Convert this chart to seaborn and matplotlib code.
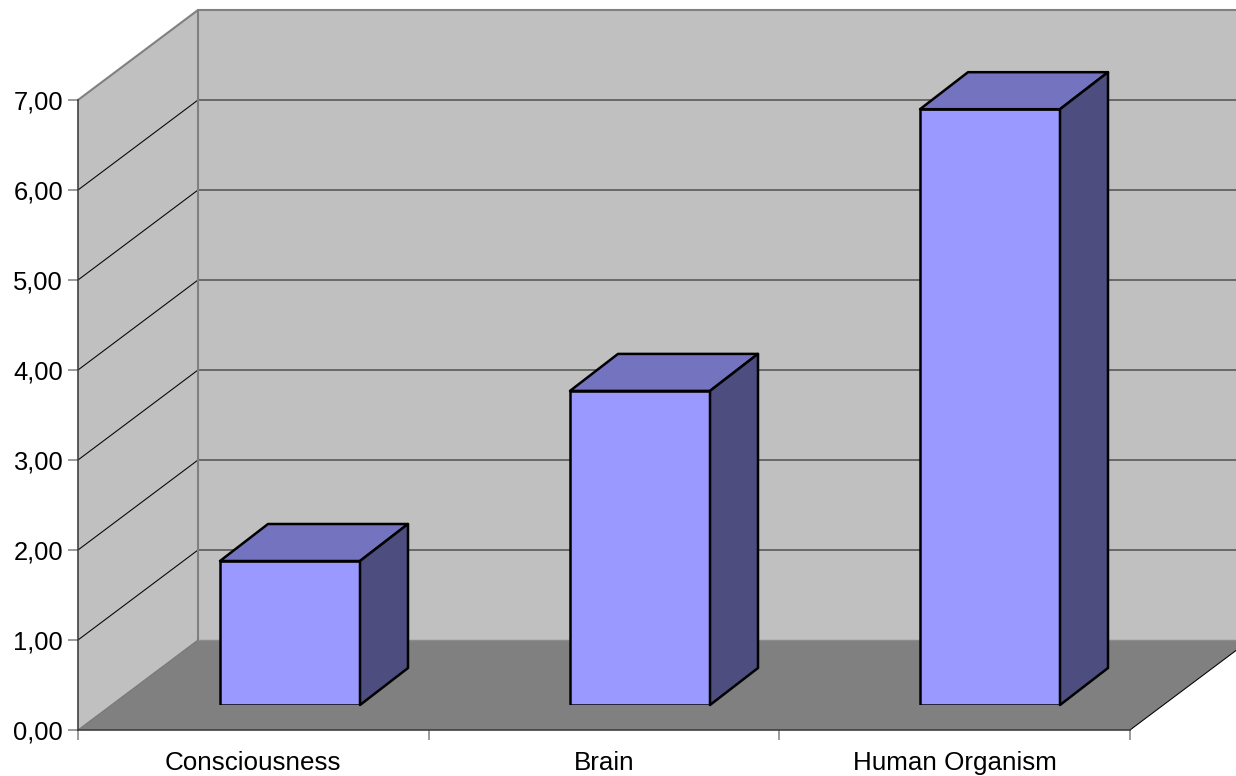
import matplotlib
matplotlib.use("Agg")
import matplotlib.pyplot as plt
from matplotlib.patches import Polygon
import seaborn as sns

categories = ["Consciousness", "Brain", "Human Organism"]
values = [1.60, 3.49, 6.62]
y_ticks = [0, 1, 2, 3, 4, 5, 6, 7]
y_labels = ["0,00", "1,00", "2,00", "3,00", "4,00", "5,00", "6,00", "7,00"]

W, H = 1236, 776
PX_X = 1052 / 3      # pixels per category on the axis
PX_BAR = 350         # pixels per category for the bars
PX_Y = 90            # pixels per value unit

sns.set_style("white")
plt.rcParams["font.family"] = ["Liberation Sans", "DejaVu Sans"]

fig = plt.figure(figsize=(W / 100, H / 100), dpi=100, facecolor="white")


def axes_at(left, base, width, zorder):
    """Axes whose x=-0.5 and y=0 corner sits at the given pixel position."""
    a = fig.add_axes([left / W, (H - base) / H, width / W, 630 / H], zorder=zorder)
    a.set_xlim(-0.5, 2.5)
    a.set_ylim(0, 7)
    a.patch.set_alpha(0)
    return a


ax = axes_at(78, 730, 1052, 1)
bar_ax = axes_at(115, 705, 1050, 2)

# Chart box: side wall, back wall and floor, pushed back by one depth step
dx = 120 / PX_X
dy = 1.0
x0, x1 = -0.5, 2.5
wall = "#C0C0C0"
edge = "#808080"


def add_poly(target, pts, face, ec="none", lw=0.0, z=1):
    target.add_patch(Polygon(pts, closed=True, facecolor=face, edgecolor=ec,
                             linewidth=lw, clip_on=False, zorder=z,
                             joinstyle="round"))


add_poly(ax, [(x0 + dx, dy), (x1 + dx, dy), (x1 + dx, 7 + dy), (x0 + dx, 7 + dy)], wall)
add_poly(ax, [(x0, 0), (x0 + dx, dy), (x0 + dx, 7 + dy), (x0, 7)], wall)
add_poly(ax, [(x0, 0), (x0 + dx, dy), (x1 + dx, dy), (x1, 0)], edge)

# Gridlines run along the side wall, then across the back wall
for t in y_ticks[1:-1]:
    ax.plot([x0, x0 + dx], [t, t + dy], color="black", lw=0.75, clip_on=False, zorder=2)
    ax.plot([x0 + dx, x1 + dx], [t + dy, t + dy], color="#505050", lw=1.1, clip_on=False, zorder=2)
ax.plot([x0, x0 + dx], [7, 7 + dy], color=edge, lw=1.5, clip_on=False, zorder=2)
ax.plot([x0 + dx, x1 + dx], [7 + dy, 7 + dy], color=edge, lw=1.5, clip_on=False, zorder=2)
ax.plot([x0 + dx, x0 + dx], [dy, 7 + dy], color=edge, lw=1.5, clip_on=False, zorder=2)
ax.plot([x0, x0 + dx], [0, dy], color="#757575", lw=0.75, clip_on=False, zorder=2)
ax.plot([x0 + dx, x1 + dx], [dy, dy], color="#8C8C8C", lw=1.0, clip_on=False, zorder=2)
ax.plot([x1, x1 + dx], [0, dy], color="black", lw=0.75, clip_on=False, zorder=2)

# Axes: spines, ticks and labels
ax.set_xticks([-0.5, 0.5, 1.5, 2.5])
ax.set_xticklabels([])
ax.set_xticks([0, 1, 2], labels=categories, minor=True)
ax.set_yticks(y_ticks, labels=y_labels)
ax.tick_params(axis="y", which="major", length=7.2, width=1.1, color=edge,
               labelsize=18.4, pad=3.5, left=True, labelcolor="black")
ax.tick_params(axis="x", which="major", length=7.2, width=1.1, color=edge, bottom=True)
ax.tick_params(axis="x", which="minor", length=0, labelsize=18.7, pad=15, labelcolor="black")
for name in ("top", "right"):
    ax.spines[name].set_visible(False)
for name in ("left", "bottom"):
    ax.spines[name].set_color("#404040")
    ax.spines[name].set_linewidth(1.2)
    ax.spines[name].set_zorder(3)

# Bars: seaborn draws the front faces; top and side faces extend them in depth
sns.barplot(x=categories, y=values, ax=bar_ax, color="#9999FF", saturation=1,
            width=140 / PX_BAR, edgecolor="black", linewidth=1.8, zorder=5)
bar_ax.set_xlim(-0.5, 2.5)
bar_ax.set_ylim(0, 7)
bar_ax.axis("off")

bx = 48 / PX_BAR
by = 37 / PX_Y
for bar in bar_ax.patches:
    left = bar.get_x()
    right = left + bar.get_width()
    top = bar.get_height()
    add_poly(bar_ax, [(left, top), (left + bx, top + by), (right + bx, top + by), (right, top)],
             "#7373BF", "black", 1.8, 6)
    add_poly(bar_ax, [(right, 0), (right + bx, by), (right + bx, top + by), (right, top)],
             "#4D4D80", "black", 1.8, 6)

fig.savefig("out.png", dpi=100, facecolor="white")
